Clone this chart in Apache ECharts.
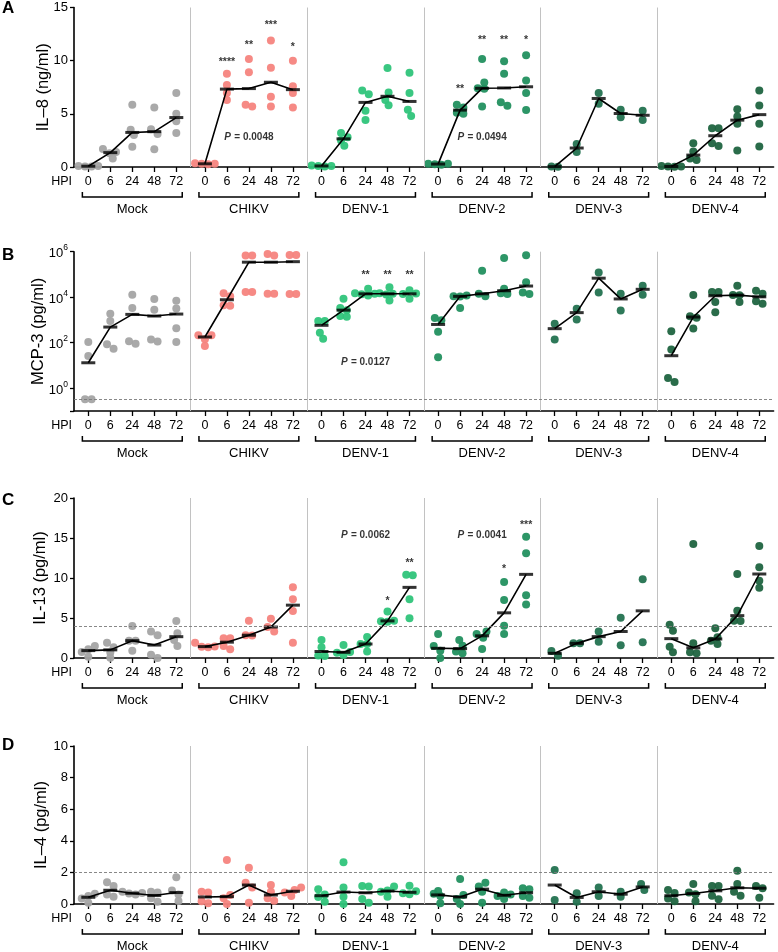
<!DOCTYPE html>
<html><head><meta charset="utf-8">
<script src="https://cdn.jsdelivr.net/npm/echarts@6/dist/echarts.min.js"></script>
<style>html,body{margin:0;padding:0;background:#fff}#c{width:778px;height:952px}</style>
</head><body><div id="c"></div>
<script>
// ---------- categories / ticks ----------
const groups = ['Mock', 'CHIKV', 'DENV-1', 'DENV-2', 'DENV-3', 'DENV-4'];
const hpi = ['0', '6', '24', '48', '72'];

// ---------- Panel A: IL-8 (ng/ml), one list per HPI ----------
const il8Mock  = [[0.05,0.1,0.1,0.05],[1.7,1.4,1.3,0.8],[5.85,3.5,3.0,1.9],[5.6,3.55,3.1,1.67],[6.95,5.0,4.3,3.2]];
const il8Chikv = [[0.3,0.35,0.3,0.25],[8.77,7.7,6.95,6.3],[10.15,8.9,5.85,5.7],[11.9,9.34,6.6,5.7],[10.0,7.6,6.95,5.6]];
const il8Denv1 = [[0.1,0.15,0.1,0.05],[3.2,2.8,2.5,2.0],[7.2,6.85,5.3,4.43],[9.3,7.0,6.3,5.8],[8.87,6.95,5.38,4.8]];
const il8Denv2 = [[0.3,0.25,0.3,0.2],[5.85,5.6,5.1,5.0],[10.15,7.95,7.4,7.35,5.7],[9.94,8.77,6.1,5.75],[10.5,8.14,6.95,5.35]];
const il8Denv3 = [[0.02,0.05],[2.17,1.4],[6.95,5.94],[5.38,4.68],[5.3,4.43]];
const il8Denv4 = [[0.05,0.02,0.05,0.1],[2.23,1.45,0.79,0.66],[3.65,3.65,2.23,1.98],[5.44,4.75,4.06,1.54],[7.2,5.79,4.06,1.92]];
const il8Stars = [[1,1,9.9,'****'],[1,2,11.5,'**'],[1,3,13.3,'***'],[1,4,11.3,'*'],[3,1,7.3,'**'],[3,2,11.9,'**'],[3,3,11.9,'**'],[3,4,11.9,'*']];
const il8P = [[1,2,2.8,'0.0048'],[3,2,2.8,'0.0494']];

// ---------- Panel B: MCP-3 (pg/ml) ----------
const mcp3Mock  = [[107,26,0.33,0.33],[1900,890,85,55],[12900,3400,117,91],[8300,2840,140,114],[7000,3200,437,107]];
const mcp3Chikv = [[215,215,143,71],[15100,11000,4470,4170],[676000,676000,16800,16800],[790000,676000,14200,14200],[715000,715000,13800,13800]];
const mcp3Denv1 = [[890,890,275,148],[8500,3400,2700,1500,1400],[23400,15000,14100,13500,11800],[27500,15000,14100,13000,7100],[20000,14500,13700,8500]];
const mcp3Denv2 = [[1230,970,300,23],[12000,11000,10800,3370],[144000,14100,11000],[530000,23400,15000,13800],[690000,46000,16000,14000]];
const mcp3Denv3 = [[690,140],[3150,1050],[121000,16300],[14200,2580],[31600,12900]];
const mcp3Denv4 = [[322,51,2.8,1.9],[12400,1450,1240,425],[17000,17000,6200,2180],[31600,12600,12200,6200],[19200,14200,6600,5200]];
const mcp3Stars = [[2,2,95000,'**'],[2,3,95000,'**'],[2,4,95000,'**']];
const mcp3P = [[2,2,14.5,'0.0127']];

// ---------- Panel C: IL-13 (pg/ml) ----------
const il13Mock  = [[1.5,1.1,0.75,0.17],[1.92,1.33,0.7,0.04],[4.0,2.17,2.17,0.92],[3.3,2.83,0.4,0.0],[4.63,3.08,2.25,1.5]];
const il13Chikv = [[1.92,1.45,1.4,1.33],[2.46,2.46,1.5,1.08],[4.67,2.85,2.8],[4.9,3.87,3.3],[8.83,7.33,5.88,1.92]];
const il13Denv1 = [[2.25,1.33,0.3,0.25],[1.63,0.75,0.67,0.38],[2.63,1.75,1.75,0.8],[5.8,4.67,4.6,4.54],[10.42,10.33,7.33,4.96]];
const il13Denv2 = [[3.0,1.5,0.92,0.0],[2.25,1.54,0.8,0.58],[3.3,3.0,2.54,1.13],[9.5,7.25,4.04,3.0],[15.17,13.08,7.83,6.7]];
const il13Denv3 = [[0.88,0.29],[1.83,1.83],[3.3,2.04],[5.04,1.58],[9.83,1.96]];
const il13Denv4 = [[4.17,3.42,1.42,0.71],[14.25,1.83,0.71,0.58],[3.71,2.58,2.17,1.75],[10.5,5.92,4.67,4.63],[14.0,11.33,9.67,8.79]];
const il13Stars = [[2,3,7.1,'*'],[2,4,11.9,'**'],[3,3,11.1,'*'],[3,4,16.6,'***']];
const il13P = [[2,2,15.4,'0.0062'],[3,2,15.4,'0.0041']];

// ---------- Panel D: IL-4 (pg/ml) ----------
const il4Mock  = [[0.65,0.5,0.35,0.08],[1.37,1.14,0.6,0.46],[0.78,0.7,0.66,0.6],[0.78,0.72,0.36,0.15],[1.69,0.85,0.6,0.19]];
const il4Chikv = [[0.78,0.72,0.17,0.04],[2.78,0.57,0.36,0.0],[2.3,1.35,1.05,0.08],[1.2,0.78,0.36,0.21],[1.05,0.89,0.72,0.5]];
const il4Denv1 = [[0.93,0.6,0.45,0.15],[2.64,1.05,0.46,0.0],[1.14,1.1,0.32,0.08],[1.1,0.86,0.78,0.46],[1.16,0.8,0.68,0.61]];
const il4Denv2 = [[0.82,0.65,0.5,0.04],[1.58,0.57,0.32,0.0],[1.35,1.1,0.78,0.08],[0.72,0.6,0.5,0.32],[1.0,0.93,0.5,0.4]];
const il4Denv3 = [[2.15,0.25],[0.68,0.15],[1.05,0.5],[0.78,0.46],[1.27,0.89]];
const il4Denv4 = [[0.89,0.7,0.35,0.17],[1.27,0.72,0.61,0.17],[1.14,1.14,0.53,0.3],[2.11,1.27,0.78,0.53],[1.14,1.0,0.4]];
const il4Stars = [];
const il4P = [];

// ---------- layout & style ----------
const FONT = 'Arial, "Liberation Sans", Helvetica, sans-serif';
const UNIT = 22;          // px per HPI step
const GW = 5.3;           // group width in steps
const X0 = 0.65;          // first HPI offset inside group
const XMAX = GW * 6;
const GRID_LEFT = 74;
const GRID_W = XMAX * UNIT;
const COLORS = ['#a4a4a4', '#f6847e', '#2fc47a', '#22905f', '#237250', '#1f6440'];

const panels = [
  {letter:'A', name:'IL\u20138 (ng/ml)', data:[il8Mock,il8Chikv,il8Denv1,il8Denv2,il8Denv3,il8Denv4], stars:il8Stars, pv:il8P,
   top:7.5, h:159.5, min:0, max:15, interval:5, log:false, lod:null, letterY:0, nameGap:22},
  {letter:'B', name:'MCP-3 (pg/ml)', data:[mcp3Mock,mcp3Chikv,mcp3Denv1,mcp3Denv2,mcp3Denv3,mcp3Denv4], stars:mcp3Stars, pv:mcp3P,
   top:251.7, h:159.3, min:0.1, max:1e6, log:true, lod:0.33, letterY:247, nameGap:27},
  {letter:'C', name:'IL-13 (pg/ml)', data:[il13Mock,il13Chikv,il13Denv1,il13Denv2,il13Denv3,il13Denv4], stars:il13Stars, pv:il13P,
   top:498, h:160, min:0, max:20, interval:5, log:false, lod:4, letterY:492, nameGap:25},
  {letter:'D', name:'IL\u20134 (pg/ml)', data:[il4Mock,il4Chikv,il4Denv1,il4Denv2,il4Denv3,il4Denv4], stars:il4Stars, pv:il4P,
   top:746, h:158, min:0, max:10, interval:2, log:false, lod:2, letterY:737, nameGap:24}
];

const xPos = (g, i) => +(g * GW + X0 + i).toFixed(3);
const xTickVals = [];
const xTickLab = {};
groups.forEach((_, g) => hpi.forEach((h, i) => { const v = xPos(g, i); xTickVals.push(v); xTickLab[v.toFixed(3)] = h; }));

function median(a) {
  const s = [...a].sort((x, y) => x - y); const n = s.length;
  return n % 2 ? s[(n - 1) / 2] : (s[n / 2 - 1] + s[n / 2]) / 2;
}

// deterministic beeswarm-style spread of overlapping dots (x offsets in HPI steps)
function swarm(vals, P) {
  const pxu = P.log ? P.h / (Math.log10(P.max) - Math.log10(P.min)) : P.h / (P.max - P.min);
  const ys = vals.map(v => (P.log ? Math.log10(v) : v) * pxu);
  const order = ys.map((_, i) => i).sort((a, b) => ys[a] - ys[b]);
  const d = 7.8, lim = d * 0.8, step = d * 0.42, xs = new Array(vals.length).fill(0), placed = [];
  for (const i of order) {
    for (let k = 0; k < 40; k++) {
      const cand = k === 0 ? 0 : (k % 2 ? -1 : 1) * Math.ceil(k / 2) * step;
      if (placed.every(j => (xs[j] - cand) ** 2 + (ys[j] - ys[i]) ** 2 >= lim ** 2)) { xs[i] = cand; break; }
    }
    placed.push(i);
  }
  const par = vals.map((_, i) => i);
  const find = a => { while (par[a] !== a) a = par[a] = par[par[a]]; return a; };
  for (let i = 0; i < vals.length; i++) for (let j = i + 1; j < vals.length; j++)
    if ((xs[i] - xs[j]) ** 2 + (ys[i] - ys[j]) ** 2 < (d * 1.05) ** 2) par[find(i)] = find(j);
  const sums = {};
  xs.forEach((x, i) => { const r = find(i); (sums[r] = sums[r] || [0, 0]); sums[r][0] += x; sums[r][1]++; });
  return xs.map((x, i) => { const s = sums[find(i)]; return (x - s[0] / s[1]) / UNIT; });
}

const grids = [], xAxes = [], yAxes = [], series = [], graphics = [];

panels.forEach((P, p) => {
  grids.push({left: GRID_LEFT, top: P.top, width: GRID_W, height: P.h});
  xAxes.push({
    gridIndex: p, type: 'value', min: 0, max: XMAX,
    axisLine: {onZero: false, lineStyle: {color: '#000', width: 1.6}},
    axisTick: {show: true, customValues: xTickVals, length: 5, lineStyle: {color: '#000', width: 1.3}},
    axisLabel: {customValues: xTickVals, formatter: v => xTickLab[(+v).toFixed(3)] ?? '', fontSize: 12.5, color: '#000', margin: 8, fontFamily: FONT},
    splitLine: {show: false}
  });
  const y = {
    gridIndex: p, min: P.min, max: P.max,
    name: P.name, nameLocation: 'middle', nameRotate: 90, nameGap: P.nameGap, nameMoveOverlap: false,
    nameTextStyle: {fontSize: 16.5, color: '#000', fontFamily: FONT},
    axisLine: {show: true, onZero: false, lineStyle: {color: '#000', width: 1.6}},
    axisTick: {show: true, length: 4, lineStyle: {color: '#000', width: 1.3}},
    axisLabel: {fontSize: 13, color: '#000', margin: 6, fontFamily: FONT},
    splitLine: {show: false}
  };
  if (P.log) {
    y.type = 'log'; y.logBase = 100;
    y.axisLabel.formatter = v => { const e = Math.round(Math.log10(v)); return e >= 0 ? '{n|10}{s|' + e + '}' : ''; };
    y.axisLabel.rich = {n: {fontSize: 13, fontFamily: FONT, color: '#000', verticalAlign: 'bottom', lineHeight: 17},
                        s: {fontSize: 8.5, fontFamily: FONT, color: '#000', verticalAlign: 'top', lineHeight: 17}};
  } else {
    y.type = 'value'; y.interval = P.interval;
  }
  yAxes.push(y);

  // separators + limit-of-detection line
  const ml = [];
  for (let g = 1; g < 6; g++) ml.push({xAxis: g * GW, lineStyle: {color: '#c2c2c2', width: 1, type: 'solid'}});
  if (P.lod != null) ml.push({yAxis: P.lod, lineStyle: {color: '#7a7a7a', width: 0.9, type: [3, 2]}});
  series.push({type: 'line', xAxisIndex: p, yAxisIndex: p, data: [], z: 1, silent: true,
    markLine: {silent: true, symbol: ['none', 'none'], label: {show: false}, data: ml, animation: false}});

  // points
  P.data.forEach((grp, g) => {
    const pts = [];
    grp.forEach((vals, i) => { const off = swarm(vals, P); vals.forEach((v, k) => pts.push([xPos(g, i) + off[k], v])); });
    series.push({type: 'scatter', xAxisIndex: p, yAxisIndex: p, data: pts, symbolSize: 8, z: 2, silent: true,
      itemStyle: {color: COLORS[g], opacity: 0.95}});
  });
  // median lines + bars
  const bars = [];
  P.data.forEach((grp, g) => {
    const meds = grp.map((vals, i) => [xPos(g, i), median(vals)]);
    meds.forEach(m => bars.push(m));
    series.push({type: 'line', xAxisIndex: p, yAxisIndex: p, data: meds, symbol: 'none', z: 3, silent: true,
      lineStyle: {color: '#000', width: 1.6}});
  });
  series.push({type: 'scatter', xAxisIndex: p, yAxisIndex: p, data: bars, symbol: 'rect', symbolSize: [14, 3], z: 4, silent: true,
    itemStyle: {color: '#000'}});

  // significance annotations
  const ann = P.stars.map(s => ({value: [xPos(s[0], s[1]), s[2]], txt: s[3], kind: 's'}))
    .concat(P.pv.map(s => ({value: [xPos(s[0], s[1]), s[2]], txt: s[3], kind: 'p'})));
  series.push({type: 'scatter', xAxisIndex: p, yAxisIndex: p, data: ann, symbolSize: 1, z: 5, silent: true,
    itemStyle: {color: 'rgba(0,0,0,0)'},
    label: {show: true, position: 'inside', color: '#000', fontFamily: FONT,
      formatter: q => q.data.kind === 'p' ? '{i|P} {b|= ' + q.data.txt + '}' : '{a|' + q.data.txt + '}',
      rich: {i: {fontStyle: 'italic', fontWeight: 'bold', fontSize: 10, fontFamily: FONT, color: '#000'},
             b: {fontWeight: 'bold', fontSize: 10, fontFamily: FONT, color: '#000'},
             a: {fontWeight: 'bold', fontSize: 10.5, fontFamily: FONT, color: '#000'}}}});

  // brackets + group names under the HPI labels
  series.push({type: 'custom', xAxisIndex: p, yAxisIndex: p, clip: false, silent: true, z: 5,
    data: groups.map((_, g) => [g * GW + GW / 2, P.min]),
    renderItem: (params, api) => {
      const g = params.dataIndex;
      const a = api.coord([xPos(g, 0) - 0.27, P.min]);
      const b = api.coord([xPos(g, 4) + 0.27, P.min]);
      const yy = a[1];
      return {type: 'group', children: [
        {type: 'polyline', shape: {points: [[a[0], yy + 25], [a[0], yy + 30], [b[0], yy + 30], [b[0], yy + 25]]},
         style: {stroke: '#000', lineWidth: 1.5, fill: 'none'}},
        {type: 'text', style: {text: groups[g], x: (a[0] + b[0]) / 2, y: yy + 42, align: 'center', verticalAlign: 'middle',
         font: '13px ' + FONT, fill: '#000'}}
      ]};
    }});

  graphics.push({type: 'text', x: 72, y: P.top + P.h + 15,
    style: {text: 'HPI', align: 'right', verticalAlign: 'middle', textAlign: 'right', textVerticalAlign: 'middle', font: '12.5px ' + FONT, fill: '#000'}});
  graphics.push({type: 'text', x: 2, y: P.letterY,
    style: {text: P.letter, align: 'left', verticalAlign: 'top', font: 'bold 17px ' + FONT, fill: '#000'}});
});

const chart = echarts.init(document.getElementById('c'), null, {renderer: 'canvas'});
chart.setOption({
  animation: false,
  backgroundColor: '#fff',
  textStyle: {fontFamily: FONT},
  grid: grids, xAxis: xAxes, yAxis: yAxes, series: series, graphic: graphics
});
</script></body></html>
